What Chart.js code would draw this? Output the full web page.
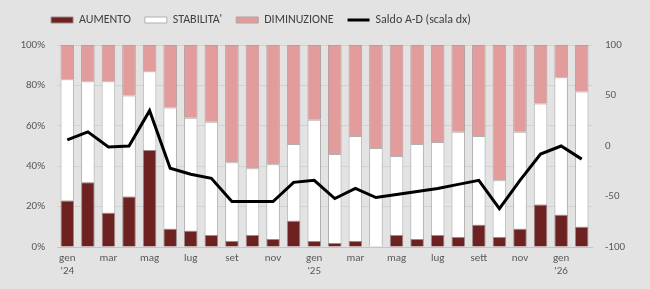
<!DOCTYPE html>
<html>
  <head>
    <title>Aumento / stabilita' / diminuzione</title>
    <script src="https://cdn.jsdelivr.net/npm/chart.js@4/dist/chart.umd.min.js"></script>
    <style>
      html, body { margin: 0; padding: 0; background: #e3e3e3; }
      #wrap { width: 650px; height: 289px; }
    </style>
  </head>
  <body>
    <div id="wrap"><canvas id="chart" width="650" height="289"></canvas></div>

    <script type="text/javascript">

      // gen '24 .. feb '26
      const months = ['gen 24','feb 24','mar 24','apr 24','mag 24','giu 24','lug 24','ago 24','set 24','ott 24','nov 24','dic 24',
                      'gen 25','feb 25','mar 25','apr 25','mag 25','giu 25','lug 25','ago 25','set 25','ott 25','nov 25','dic 25',
                      'gen 26','feb 26'];
      const tickLabels = [['gen',"'24"],'','mar','','mag','','lug','','set','','nov','',
                          ['gen',"'25"],'','mar','','mag','','lug','','sett','','nov','',
                          ['gen',"'26"],''];

      const aumento     = [23, 32, 17, 25, 48,  9,  8,  6,  3,  6,  4, 13,  3,  2,  3,  0,  6,  4,  6,  5, 11,  5,  9, 21, 16, 10];
      const stabilita   = [60, 50, 65, 50, 39, 60, 56, 56, 39, 33, 37, 38, 60, 44, 52, 49, 39, 47, 46, 52, 44, 28, 48, 50, 68, 67];
      const diminuzione = [17, 18, 18, 25, 13, 31, 36, 38, 58, 61, 59, 49, 37, 54, 45, 51, 55, 49, 48, 43, 45, 67, 43, 29, 16, 23];
      const saldo       = [ 6, 14, -1,  0, 35,-22,-28,-32,-55,-55,-55,-36,-34,-52,-42,-51,-48,-45,-42,-38,-34,-62,-34, -8,  0,-13];

      const leftTicks = [0, 20, 40, 60, 80, 100];
      const rightTicks = [-100, -50, 0, 50, 100];

      const font = "Carlito, Calibri, Lato, 'Liberation Sans', sans-serif";
      const txt = '#595959';

      // fixed legend height + horizontal shift
      const legendFix = {
        id: 'legendFix',
        afterInit(chart) {
          const lg = chart.legend;
          const fit = lg.fit.bind(lg);
          lg.fit = function () { fit(); this.height = 45; };
        },
        afterLayout(chart) {
          chart.legend.left -= 64;
          chart.legend.right -= 64;
        }
      };

      const ctx = document.getElementById('chart').getContext('2d');

      const myChart = new Chart(ctx, {
        data: {
          labels: months,
          datasets: [
            {
              type: 'line', label: 'Saldo A-D (scala dx)', data: saldo, yAxisID: 'y1',
              borderColor: '#000000', backgroundColor: '#000000', borderWidth: 3,
              pointRadius: 0, tension: 0, order: 0, pointStyle: 'line'
            },
            {
              type: 'bar', label: 'AUMENTO', data: aumento, yAxisID: 'y',
              backgroundColor: '#6d2121', borderColor: '#9a8a8a', borderWidth: 1, order: 1, pointStyle: 'rect'
            },
            {
              type: 'bar', label: "STABILITA'", data: stabilita, yAxisID: 'y',
              backgroundColor: '#ffffff', borderColor: '#b0b0b0', borderWidth: 1, order: 1, pointStyle: 'rect'
            },
            {
              type: 'bar', label: 'DIMINUZIONE', data: diminuzione, yAxisID: 'y',
              backgroundColor: '#e39c9c', borderColor: '#b5a0a0', borderWidth: 1, order: 1, pointStyle: 'rect'
            }
          ]
        },
        options: {
          responsive: false,
          animation: false,
          layout: { padding: 0 },
          datasets: { bar: { barPercentage: 0.66, categoryPercentage: 1 } },
          plugins: {
            tooltip: { enabled: false },
            legend: {
              position: 'top',
              labels: {
                usePointStyle: true,
                pointStyleWidth: 22,
                boxHeight: 6,
                padding: 14,
                color: '#404040',
                font: { family: font, size: 12 },
                sort: (a, b) => (a.datasetIndex === 0 ? 1 : 0) - (b.datasetIndex === 0 ? 1 : 0)
              }
            }
          },
          scales: {
            x: {
              stacked: true,
              grid: { display: false, drawTicks: false },
              border: { display: true, color: '#c4c4c4' },
              ticks: {
                autoSkip: false, maxRotation: 0, color: txt, padding: 5,
                font: { family: font, size: 11, lineHeight: 1.15 },
                callback: (v, i) => tickLabels[i]
              },
              afterFit: (s) => { s.height = 42; }
            },
            y: {
              stacked: true, min: 0, max: 100,
              afterBuildTicks: (s) => { s.ticks = leftTicks.map(v => ({ value: v })); },
              grid: { color: '#d2d2d2', drawTicks: false },
              border: { display: false },
              ticks: { color: txt, padding: 12, font: { family: font, size: 11 }, callback: (v) => v + '%' },
              afterFit: (s) => { s.width = 57; }
            },
            y1: {
              position: 'right', min: -100, max: 100,
              afterBuildTicks: (s) => { s.ticks = rightTicks.map(v => ({ value: v })); },
              grid: { display: false, drawTicks: false },
              border: { display: false },
              ticks: { color: txt, padding: 13, font: { family: font, size: 11 } },
              afterFit: (s) => { s.width = 58; }
            }
          }
        },
        plugins: [legendFix]
      });

    </script>
  </body>
</html>
